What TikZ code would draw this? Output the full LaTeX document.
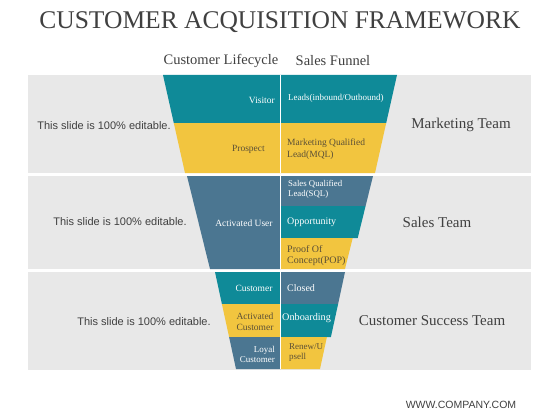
\documentclass[tikz,border=0pt]{standalone}
\usepackage{fontspec}
\setmainfont{Liberation Serif}
\setsansfont{Liberation Sans}
\definecolor{tealc}{HTML}{0F8A98}
\definecolor{yelc}{HTML}{F2C53F}
\definecolor{slatec}{HTML}{4B7691}
\definecolor{bandc}{HTML}{E8E8E8}
\definecolor{txtc}{HTML}{404040}
\definecolor{ytxtc}{HTML}{5C5036}
\begin{document}
\begin{tikzpicture}[x=1pt,y=-1pt,
  lab/.style={inner sep=0pt, font=\fontsize{9.5}{12}\selectfont},
  wl/.style={lab,text=white},
  yl/.style={lab,text=ytxtc},
  side/.style={font=\sffamily\fontsize{11}{13}\selectfont, text=txtc, inner sep=0pt},
  team/.style={font=\fontsize{15}{17}\selectfont, text=txtc, inner sep=0pt},
  head/.style={font=\fontsize{14.5}{16}\selectfont, text=txtc, inner sep=0pt},
  divider/.style={draw=white, line width=0.8pt}
]
\useasboundingbox (0,0) rectangle (560,420);
\fill[white] (0,0) rectangle (560,420);

% title and headers
\node[font=\fontsize{25.5}{28}\selectfont, text=txtc, inner sep=0pt] (title) at (280,22) {CUSTOMER ACQUISITION FRAMEWORK};
\node[head] (hlife) at (221,61) {Customer Lifecycle};
\node[head] (hfun) at (333,61) {Sales Funnel};

% gray bands
\fill[bandc] (28,75) rectangle (531,173);
\fill[bandc] (28,176) rectangle (531,269);
\fill[bandc] (28,272) rectangle (531,370);

% top section
\fill[tealc] (163,75) -- (397,75) -- (386.2,123) -- (173.8,123) -- cycle;
\fill[yelc] (173.8,123) -- (386.2,123) -- (375,173) -- (185,173) -- cycle;
\draw[divider] (280,75) -- (280,173);

% middle section
\fill[slatec] (187,176) -- (280,176) -- (280,269) -- (210,269) -- cycle;
\fill[slatec] (280,176) -- (373,176) -- (365.6,206) -- (280,206) -- cycle;
\fill[tealc] (280,206) -- (365.6,206) -- (357.7,238) -- (280,238) -- cycle;
\fill[yelc] (280,238) -- (352.7,238) -- (345,269) -- (280,269) -- cycle;
\draw[divider] (280,176) -- (280,269);

% bottom section
\fill[tealc] (215,272) -- (280,272) -- (280,304) -- (221.9,304) -- cycle;
\fill[slatec] (280,272) -- (345,272) -- (338.1,304) -- (280,304) -- cycle;
\fill[yelc] (221.9,304) -- (280,304) -- (280,337) -- (229.1,337) -- cycle;
\fill[tealc] (280,304) -- (338.1,304) -- (330.9,337) -- (280,337) -- cycle;
\fill[slatec] (229.1,337) -- (280,337) -- (280,369) -- (236,369) -- cycle;
\fill[yelc] (280,337) -- (326.9,337) -- (320,369) -- (280,369) -- cycle;
\draw[divider] (280,272) -- (280,369);

% left column labels
\node[wl, anchor=east] (visitor) at (275,100) {Visitor};
\node[yl, anchor=east] (prospect) at (265,149) {Prospect};
\node[wl] (actuser) at (244,223) {Activated User};
\node[wl] (cust) at (254,288) {Customer};
\node[yl, align=center, font=\fontsize{9.5}{11}\selectfont] (actcust) at (255,321.5) {Activated\\Customer};
\node[wl, anchor=east, align=right, font=\fontsize{9}{9.5}\selectfont] (loyal) at (275,354.5) {Loyal\\Customer};

% right column labels
\node[wl, anchor=west, font=\fontsize{9}{11}\selectfont] (leads) at (288,98) {Leads(inbound/Outbound)};
\node[yl, anchor=west, align=left] (mql) at (287,149) {Marketing Qualified\\Lead(MQL)};
\node[wl, anchor=west, align=left, font=\fontsize{8.8}{10}\selectfont] (sql) at (288,189) {Sales Qualified\\Lead(SQL)};
\node[wl, anchor=west, font=\fontsize{10}{12}\selectfont] (opp) at (287,222) {Opportunity};
\node[yl, anchor=west, align=left, font=\fontsize{10}{11}\selectfont] (pop) at (287,255.5) {Proof Of\\Concept(POP)};
\node[wl, anchor=west, font=\fontsize{10}{12}\selectfont] (closed) at (287,288) {Closed};
\node[wl, anchor=west, font=\fontsize{10.2}{12}\selectfont] (onb) at (282,318) {Onboarding};
\node[yl, anchor=west, align=left, font=\fontsize{9}{9.5}\selectfont] (renew) at (289,352.5) {Renew/U\\psell};

% side texts
\node[side] (ed1) at (104,126) {This slide is 100\% editable.};
\node[side] (ed2) at (120,222) {This slide is 100\% editable.};
\node[side] (ed3) at (144,322) {This slide is 100\% editable.};

% teams
\node[team] (mkt) at (461,125) {Marketing Team};
\node[team] (sales) at (437,222) {Sales Team};
\node[team] (cst) at (432,321) {Customer Success Team};

% footer
\node[font=\sffamily\fontsize{10.5}{12}\selectfont, text=txtc, inner sep=0pt] (web) at (461,405) {WWW.COMPANY.COM};
\end{tikzpicture}
\end{document}
